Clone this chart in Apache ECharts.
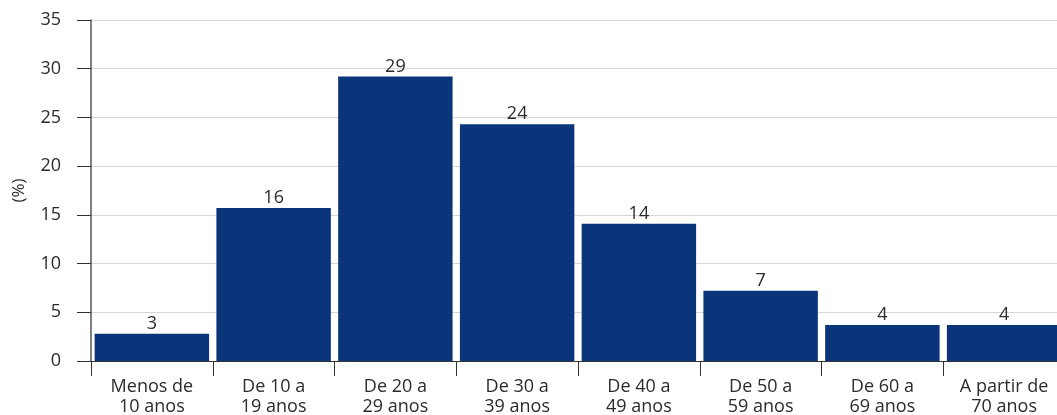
<!DOCTYPE html>
<html>
<head>
<meta charset="utf-8">
<script src="https://cdn.jsdelivr.net/npm/echarts@6/dist/echarts.min.js"></script>
<style>
  html, body { margin: 0; padding: 0; background: #fff; }
  #chart { width: 1057px; height: 415px; }
</style>
</head>
<body>
<div id="chart"></div>
<script>
// Age groups and share (%)
const categories = [
  'Menos de\n10 anos', 'De 10 a\n19 anos', 'De 20 a\n29 anos', 'De 30 a\n39 anos',
  'De 40 a\n49 anos', 'De 50 a\n59 anos', 'De 60 a\n69 anos', 'A partir de\n70 anos'
];
const values = [2.8, 15.7, 29.2, 24.3, 14.1, 7.2, 3.7, 3.7];

const barColor = '#0a357b';
const textColor = '#2b2b2b';
const fontFamily = '"Open Sans", "Noto Sans", sans-serif';

const chart = echarts.init(document.getElementById('chart'));

chart.setOption({
  animation: false,
  // plot runs a little past the right edge, like the reference
  grid: {
    left: 91, width: 974, top: 20, height: 341,
    containLabel: false,
    outerBoundsMode: 'none'
  },
  xAxis: {
    type: 'category',
    data: categories,
    axisLine: { lineStyle: { color: '#333', width: 1 } },
    axisTick: { show: true, length: 15, lineStyle: { color: '#333' } },
    axisLabel: {
      color: textColor,
      fontSize: 18,
      lineHeight: 20,
      margin: 16,
      fontFamily: fontFamily,
      interval: 0
    }
  },
  yAxis: {
    type: 'value',
    min: 0,
    max: 35,
    interval: 5,
    name: '(%)',
    nameLocation: 'middle',
    nameGap: 63,
    nameRotate: 90,
    nameTextStyle: { color: textColor, fontSize: 17, fontFamily: fontFamily },
    axisLine: { show: true, lineStyle: { color: '#555', width: 1.5 } },
    axisTick: { show: true, length: 14, lineStyle: { color: '#333' } },
    axisLabel: { color: textColor, fontSize: 18, margin: 30, fontFamily: fontFamily },
    splitLine: { lineStyle: { color: '#d6d6d6', width: 1 } }
  },
  series: [{
    type: 'bar',
    data: values,
    barCategoryGap: '6%',
    itemStyle: { color: barColor },
    label: {
      show: true,
      position: 'top',
      distance: 1,
      color: textColor,
      fontSize: 18,
      fontFamily: fontFamily,
      formatter: p => Math.round(p.value)
    }
  }]
});
</script>
</body>
</html>
